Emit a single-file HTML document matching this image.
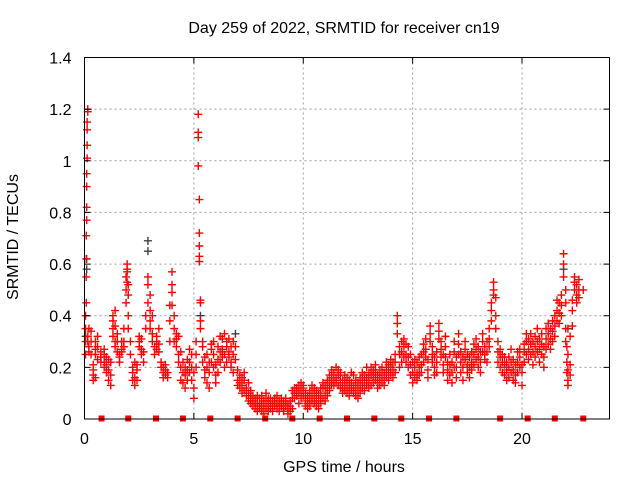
<!DOCTYPE html>
<html><head><meta charset="utf-8"><style>
body{margin:0;background:#fff;}
svg{display:block;font-family:"Liberation Sans",sans-serif;}
</style></head><body>
<svg id="chart" width="640" height="480" viewBox="0 0 640 480">
<text x="344" y="33" font-size="16" text-anchor="middle">Day 259 of 2022, SRMTID for receiver cn19</text>
<text x="344" y="472" font-size="16" text-anchor="middle">GPS time / hours</text>
<text x="18" y="237" font-size="16" text-anchor="middle" transform="rotate(-90 18 237)">SRMTID / TECUs</text>
<g id="grid"></g>
<g id="marks"></g>
<rect x="84.5" y="57.5" width="525" height="361.5" fill="none" stroke="#000" stroke-width="1"/>
<g id="axes"></g>
</svg>
<script>
const xTicks=[0,5,10,15,20];
const yTicks=[0,0.2,0.4,0.6,0.8,1,1.2,1.4];
const yTickLabels=["0","0.2","0.4","0.6","0.8","1","1.2","1.4"];
const redHours=[0.05,0.08,0.1,0.12,0.15,0.2,0.3,0.4,0.5,0.6,0.75,0.9,1.0,1.1,1.2,1.3,1.4,1.5,1.6,1.7,1.8,1.9,1.95,2.0,2.1,2.2,2.3,2.4,2.5,2.6,2.7,2.8,2.9,3.0,3.1,3.2,3.3,3.4,3.5,3.6,3.7,3.8,3.9,4.0,4.1,4.2,4.3,4.4,4.5,4.6,4.7,4.8,4.9,5.0,5.1,5.2,5.25,5.3,5.4,5.5,5.6,5.7,5.8,5.9,6.0,6.1,6.2,6.3,6.4,6.5,6.6,6.7,6.8,6.9,7.0,7.1,7.2,7.3,7.4,7.5,7.6,7.7,7.8,7.9,8.0,8.1,8.2,8.3,8.4,8.5,8.6,8.7,8.8,8.9,9.0,9.1,9.2,9.3,9.4,9.5,9.6,9.7,9.8,9.9,10.0,10.1,10.2,10.3,10.4,10.5,10.6,10.7,10.8,10.9,11.0,11.1,11.2,11.3,11.4,11.5,11.6,11.7,11.8,11.9,12.0,12.1,12.2,12.3,12.4,12.5,12.6,12.7,12.8,12.9,13.0,13.1,13.2,13.3,13.4,13.5,13.6,13.7,13.8,13.9,14.0,14.1,14.2,14.3,14.4,14.5,14.6,14.7,14.8,14.9,15.0,15.1,15.2,15.3,15.4,15.5,15.6,15.7,15.8,15.9,16.0,16.1,16.2,16.3,16.4,16.5,16.6,16.7,16.8,16.9,17.0,17.1,17.2,17.3,17.4,17.5,17.6,17.7,17.8,17.9,18.0,18.1,18.2,18.3,18.4,18.5,18.6,18.7,18.8,18.9,19.0,19.1,19.2,19.3,19.4,19.5,19.6,19.7,19.8,19.9,20.0,20.1,20.2,20.3,20.4,20.5,20.6,20.7,20.8,20.9,21.0,21.1,21.2,21.3,21.4,21.5,21.6,21.7,21.8,21.9,22.0,22.05,22.1,22.2,22.3,22.4,22.5,22.6,22.8];
const redValues=[[0.30,0.25,0.35,0.40],[0.45,0.55,0.62,0.71],[0.77,0.82,0.90,0.95],[1.01,1.06,1.12,1.15],[1.20,1.19,0.30,0.32],[0.28,0.35,0.26],[0.34,0.30,0.25],[0.17,0.15,0.19,0.21],[0.16,0.25,0.27,0.30],[0.28,0.32,0.23],[0.26,0.22,0.24],[0.20,0.22,0.25,0.27],[0.18,0.21,0.24],[0.15,0.19,0.23],[0.13,0.17,0.22],[0.35,0.40,0.38,0.32],[0.42,0.36,0.30,0.28],[0.33,0.30,0.26],[0.25,0.22,0.24],[0.27,0.30,0.26],[0.30,0.35,0.28],[0.45,0.50,0.55],[0.58,0.60,0.57,0.53],[0.52,0.48,0.40,0.35],[0.30,0.25],[0.20,0.18,0.15],[0.22,0.16,0.13],[0.19,0.15,0.21],[0.28,0.32,0.30],[0.31,0.27,0.25],[0.22,0.26],[0.35,0.40],[0.55,0.52,0.45],[0.48,0.42,0.38,0.35],[0.40,0.33,0.30],[0.28,0.25],[0.27,0.30,0.32],[0.35,0.29,0.26],[0.22,0.20],[0.18,0.20,0.16],[0.17,0.19,0.21],[0.16,0.18],[0.30,0.38,0.44],[0.57,0.52,0.49,0.44],[0.40,0.35,0.30],[0.28,0.33,0.31],[0.32,0.25,0.22],[0.20,0.15,0.26],[0.14,0.18,0.22],[0.12,0.17,0.20],[0.15,0.19,0.23],[0.18,0.22,0.27],[0.25,0.20,0.15],[0.12,0.08,0.18],[0.20,0.25,0.30],[1.18,1.11,1.09,0.98],[0.85,0.72,0.67,0.63,0.61],[0.45,0.46,0.38,0.35],[0.30,0.28,0.22],[0.19,0.16,0.24],[0.25,0.14,0.20],[0.12,0.18,0.22],[0.22,0.27,0.29],[0.25,0.30,0.20],[0.17,0.21,0.14],[0.18,0.23,0.28],[0.32,0.26,0.22],[0.31,0.27,0.24],[0.33,0.25,0.20],[0.22,0.28,0.30],[0.26,0.31,0.24],[0.28,0.22,0.20],[0.25,0.30,0.18],[0.28,0.23],[0.15,0.19,0.13],[0.17,0.12,0.14],[0.16,0.13,0.10],[0.15,0.11,0.18],[0.12,0.09],[0.14,0.10,0.07],[0.08,0.11,0.06],[0.09,0.05,0.07],[0.04,0.08,0.06],[0.06,0.03,0.09],[0.05,0.08,0.04],[0.06,0.09,0.03],[0.02,0.05,0.07],[0.07,0.04,0.10],[0.05,0.08,0.03],[0.06,0.04,0.08],[0.03,0.07,0.05],[0.08,0.05,0.06],[0.04,0.06,0.09],[0.07,0.03,0.05],[0.05,0.08,0.06],[0.04,0.07,0.03],[0.06,0.05,0.08],[0.04,0.02,0.06],[0.05,0.07,0.03],[0.08,0.11,0.04],[0.10,0.12,0.08],[0.12,0.09,0.11],[0.10,0.06,0.13],[0.11,0.08,0.14],[0.09,0.12,0.13],[0.07,0.10,0.05],[0.06,0.09,0.04],[0.08,0.11,0.05],[0.07,0.10,0.13],[0.12,0.09,0.06],[0.05,0.08,0.11],[0.04,0.07,0.10],[0.06,0.09,0.12],[0.08,0.12,0.14],[0.10,0.13,0.07],[0.12,0.15,0.09],[0.14,0.11,0.17],[0.16,0.13,0.19],[0.18,0.15,0.13],[0.20,0.16,0.14],[0.17,0.19,0.13],[0.15,0.12,0.18],[0.12,0.15,0.10],[0.14,0.11,0.17],[0.10,0.13,0.16],[0.12,0.09,0.15],[0.14,0.11,0.18],[0.17,0.13,0.10],[0.12,0.15,0.09],[0.11,0.14,0.08],[0.13,0.10,0.16],[0.15,0.12,0.18],[0.14,0.17,0.11],[0.16,0.13,0.20],[0.15,0.18,0.12],[0.13,0.17,0.20],[0.16,0.19,0.14],[0.18,0.15,0.21],[0.14,0.17,0.12],[0.16,0.13,0.19],[0.17,0.14,0.20],[0.15,0.18,0.13],[0.19,0.16,0.22],[0.18,0.21,0.15],[0.17,0.20,0.23],[0.19,0.22,0.16],[0.22,0.18,0.25],[0.37,0.40,0.33],[0.25,0.20,0.28],[0.26,0.30,0.22],[0.28,0.24,0.31],[0.29,0.25,0.22],[0.20,0.24,0.28],[0.17,0.21,0.25],[0.14,0.18,0.22],[0.16,0.20,0.23],[0.18,0.15,0.22],[0.24,0.20,0.17],[0.21,0.25,0.18],[0.26,0.29,0.22],[0.27,0.31,0.24],[0.19,0.23,0.16],[0.30,0.36,0.33],[0.28,0.25,0.22],[0.20,0.17,0.24],[0.18,0.22,0.26],[0.34,0.37,0.31],[0.27,0.30,0.24],[0.21,0.25,0.18],[0.28,0.32,0.24],[0.19,0.22,0.15],[0.17,0.21,0.25],[0.14,0.18,0.22],[0.26,0.30,0.20],[0.16,0.20,0.24],[0.29,0.33,0.25],[0.22,0.18,0.26],[0.15,0.20,0.24],[0.23,0.27,0.30],[0.18,0.21,0.25],[0.20,0.24,0.16],[0.22,0.26,0.19],[0.25,0.29,0.21],[0.23,0.27,0.31],[0.28,0.24,0.20],[0.22,0.26,0.18],[0.30,0.26,0.33],[0.28,0.25,0.23],[0.26,0.30,0.22],[0.31,0.35,0.28],[0.38,0.42,0.45],[0.50,0.53,0.48],[0.47,0.40,0.35],[0.30,0.26,0.22],[0.24,0.20,0.27],[0.18,0.22,0.25],[0.21,0.17,0.24],[0.15,0.19,0.22],[0.20,0.24,0.16],[0.22,0.27,0.18],[0.19,0.15,0.23],[0.17,0.21,0.14],[0.22,0.26,0.18],[0.24,0.20,0.27],[0.18,0.13,0.21],[0.22,0.26,0.29],[0.25,0.30,0.33],[0.27,0.23,0.31],[0.33,0.29,0.25],[0.21,0.26,0.30],[0.28,0.24,0.32],[0.30,0.35,0.26],[0.27,0.22,0.31],[0.33,0.29,0.25],[0.28,0.24,0.20],[0.31,0.35,0.27],[0.33,0.37,0.29],[0.35,0.31,0.27],[0.38,0.34,0.30],[0.40,0.36,0.32],[0.42,0.38,0.46],[0.45,0.41,0.37],[0.48,0.44,0.40],[0.55,0.60,0.64],[0.50,0.45,0.35,0.30],[0.28,0.22,0.18],[0.15,0.13,0.19,0.25],[0.17,0.21,0.32],[0.36,0.42,0.46],[0.50,0.53,0.55],[0.52,0.48,0.45],[0.54,0.50,0.47],[0.50]];
const greyHours=[0.05,0.1,0.1,2.9,2.9,5.3,6.9,21.9,22.1];
const greyValues=[0.32,0.62,0.58,0.69,0.65,0.40,0.33,0.58,0.35];
const squareHours=[0.78,2.0,3.27,4.5,5.75,7.0,8.26,9.5,10.75,12.0,13.25,14.48,15.75,17.0,19.0,20.26,21.5,22.8];
const squareValues=[0,0,0,0,0,0,0,0,0,0,0,0,0,0,0,0,0,0];

const NS="http://www.w3.org/2000/svg";
const L=84.5,R=609.5,T=57.5,B=419,XMAX=24,YMAX=1.4;
function xs(h){return L+(h/XMAX)*(R-L);}
function ys(v){return B-(v/YMAX)*(B-T);}
function mk(tag,attrs,parent){const e=document.createElementNS(NS,tag);for(const k in attrs)e.setAttribute(k,attrs[k]);parent.appendChild(e);return e;}
const grid=document.getElementById('grid'),axes=document.getElementById('axes'),marks=document.getElementById('marks');
xTicks.forEach(t=>{
  const x=xs(t);
  if(t>0){const g=mk('line',{x1:x,x2:x,y1:T,y2:B,stroke:'#a0a0a0','stroke-dasharray':'2,3','stroke-width':1},grid);
  
  }
  const tk=mk('path',{d:`M${x},${B}v-6M${x},${T}v6`,stroke:'#000','stroke-width':1},axes);
  
  
  const lb=mk('text',{x:x,y:B+25,'font-size':16,'text-anchor':'middle'},axes);
  lb.textContent=String(t);
  
  
});
yTicks.forEach((t,i)=>{
  const y=ys(t);
  if(t>0&&t<YMAX){const g=mk('line',{x1:L,x2:R,y1:y,y2:y,stroke:'#a0a0a0','stroke-dasharray':'2,3','stroke-width':1},grid);
  
  }
  const tk=mk('path',{d:`M${L},${y}h6M${R},${y}h-6`,stroke:'#000','stroke-width':1},axes);
  
  
  const lb=mk('text',{x:L-13,y:y+6,'font-size':16,'text-anchor':'end'},axes);
  lb.textContent=yTickLabels[i];
  
  
});
function plus(h,v,color,name){
  const x=xs(h),y=ys(v);
  const p=mk('path',{d:`M${x-4},${y}h8M${x},${y-4}v8`,stroke:color,'stroke-width':1.4},marks);
  
  
}
greyHours.forEach((h,i)=>plus(h,greyValues[i],'#404040','grey-point'));
redHours.forEach((h,i)=>redValues[i].forEach(v=>plus(h,v,'#ff0000','red-point')));
squareHours.forEach((h,i)=>{
  const s=mk('rect',{x:xs(h)-3,y:ys(squareValues[i])-3.5,width:6,height:6,fill:'#ff0000'},marks);
  
  
});
</script>
</body></html>
